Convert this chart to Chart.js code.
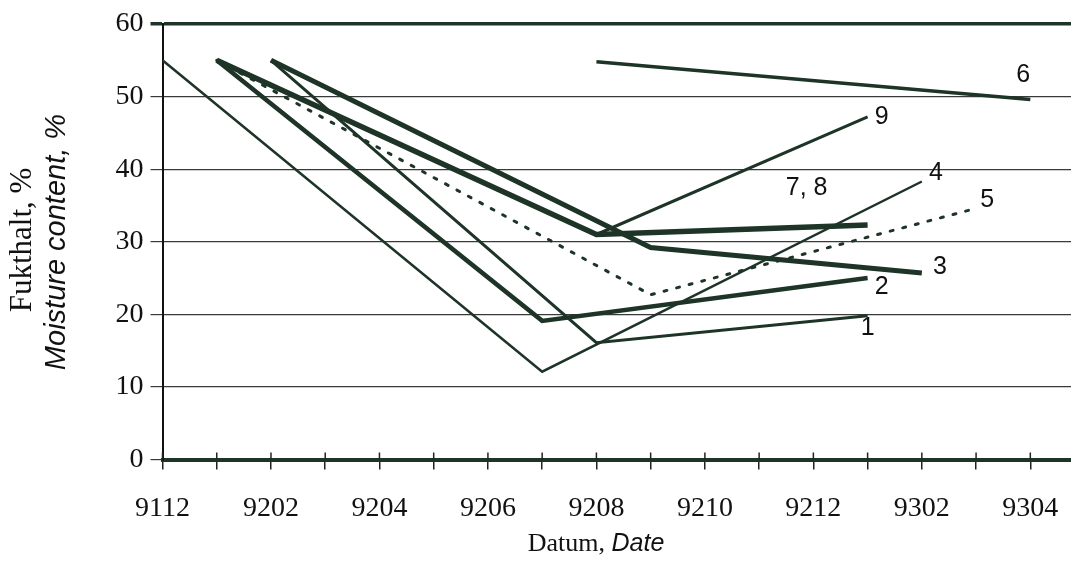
<!DOCTYPE html>
<html>
<head>
<meta charset="utf-8">
<script src="https://cdn.jsdelivr.net/npm/chart.js@4"></script>
<style>
  html, body { margin: 0; padding: 0; background: #fff; }
  #wrap { width: 1071px; height: 579px; }
</style>
</head>
<body>
<div id="wrap"><canvas id="chart_moisture"></canvas></div>
<script>
// months, index 0 = 9112 ... 16 = 9304
var months = ['9112', '9201', '9202', '9203', '9204', '9205', '9206', '9207', '9208',
              '9209', '9210', '9211', '9212', '9301', '9302', '9303', '9304'];

//               9112  9201  9202  9203  9204  9205  9206  9207  9208  9209  9210  9211  9212  9301  9302  9303  9304
var series1  = [null, null,  55, null, null, null, null, null, 16.1, null, null, null, null, 19.8, null, null, null];
var series2  = [null,  55, null, null, null, null, null, 19.1, null, null, null, null, null, 25.0, null, null, null];
var series3  = [null, null,  55, null, null, null, null, null, null, 29.2, null, null, null, null, 25.7, null, null];
var series4  = [ 55, null, null, null, null, null, null, 12.1, null, null, null, null, null, null, 38.3, null, null];
var series5  = [null,  55, null, null, null, null, null, null, null, 22.7, null, null, null, null, null, 34.6, null];
var series6  = [null, null, null, null, null, null, null, null, 54.8, null, null, null, null, null, null, null, 49.6];
var series78 = [null,  55, null, null, null, null, null, null, 31.0, null, null, null, null, 32.3, null, null, null];
var series9  = [null,  55, null, null, null, null, null, null, 31.0, null, null, null, null, 47.2, null, null, null];

var ink = '#1d3427';

function toPoints(values) {
    var pts = [];
    values.forEach(function(v, i) {
        if (v !== null) pts.push({x: i, y: v});
    });
    return pts;
}

function line(label, values, width, dash) {
    return {
        label: label,
        data: toPoints(values),
        borderColor: ink,
        borderWidth: width,
        borderDash: dash || [],
        borderCapStyle: dash ? 'round' : 'butt',
        borderJoinStyle: 'miter',
        pointRadius: 0,
        fill: false,
        tension: 0
    };
}

// where each series' number sits, relative to its last point
var labelOffsets = {
    '1':    {dx: 0,   dy: 12},
    '2':    {dx: 14,  dy: 9},
    '3':    {dx: 18,  dy: -6},
    '4':    {dx: 14,  dy: -8},
    '5':    {dx: 11,  dy: -8},
    '6':    {dx: -7,  dy: -24},
    '7, 8': {dx: -61, dy: -37},
    '9':    {dx: 14,  dy: 0}
};

var textPlugin = {
    id: 'textPlugin',
    afterDraw: function(chart) {
        var ctx = chart.ctx;
        var xs = chart.scales.x, ys = chart.scales.y;
        ctx.save();
        ctx.fillStyle = '#111';
        ctx.textBaseline = 'middle';
        ctx.textAlign = 'center';

        // small tick marks poking above the x axis
        ctx.strokeStyle = '#222';
        ctx.lineWidth = 1.5;
        for (var i = 0; i < months.length; i++) {
            var px = xs.getPixelForValue(i);
            ctx.beginPath();
            ctx.moveTo(px, ys.bottom - 7);
            ctx.lineTo(px, ys.bottom);
            ctx.stroke();
        }

        // series numbers
        ctx.font = '25px "Liberation Sans", Arial, sans-serif';
        chart.data.datasets.forEach(function(ds) {
            var last = ds.data[ds.data.length - 1];
            var off = labelOffsets[ds.label];
            ctx.fillText(ds.label, xs.getPixelForValue(last.x) + off.dx, ys.getPixelForValue(last.y) + off.dy);
        });

        // y axis title, two lines
        ctx.save();
        ctx.translate(23, 240);
        ctx.rotate(-Math.PI / 2);
        ctx.font = '31px "Liberation Serif", "Times New Roman", serif';
        ctx.fillText('Fukthalt, %', 0, 0);
        ctx.restore();
        ctx.save();
        ctx.translate(57, 242);
        ctx.rotate(-Math.PI / 2);
        ctx.font = 'italic 29px "Liberation Sans", Arial, sans-serif';
        ctx.fillText('Moisture content, %', 0, 0);
        ctx.restore();

        // x axis title
        var part1 = 'Datum, ', part2 = 'Date';
        var f1 = '26px "Liberation Serif", "Times New Roman", serif';
        var f2 = 'italic 25px "Liberation Sans", Arial, sans-serif';
        ctx.font = f1;
        var w1 = ctx.measureText(part1).width;
        ctx.font = f2;
        var w2 = ctx.measureText(part2).width;
        var x0 = 596 - (w1 + w2) / 2;
        ctx.textAlign = 'left';
        ctx.font = f1;
        ctx.fillText(part1, x0, 544);
        ctx.font = f2;
        ctx.fillText(part2, x0 + w1, 544);
        ctx.restore();
    }
};

var chart_moisture = new Chart(document.getElementById('chart_moisture'), {
    type: 'line',
    data: {
        datasets: [
            line('1', series1, 3),
            line('2', series2, 4.5),
            line('3', series3, 5),
            line('4', series4, 2.5),
            line('5', series5, 3, [3, 10]),
            line('6', series6, 3.5),
            line('7, 8', series78, 5.5),
            line('9', series9, 3)
        ]
    },
    options: {
        animation: false,
        responsive: true,
        maintainAspectRatio: false,
        layout: {
            padding: {top: 24, right: 0, left: 0, bottom: 0}
        },
        plugins: {
            legend: {display: false},
            title: {display: false},
            tooltip: {enabled: false}
        },
        scales: {
            x: {
                type: 'linear',
                min: 0,
                max: 16.75,
                afterFit: function(scale) {
                    scale.height = 119.5;
                    scale.paddingLeft = 0;
                    scale.paddingRight = 0;
                },
                border: {display: true, color: ink, width: 4},
                grid: {
                    drawOnChartArea: false,
                    drawTicks: true,
                    tickLength: 10,
                    color: '#222',
                    lineWidth: 1.5
                },
                ticks: {
                    stepSize: 1,
                    includeBounds: false,
                    autoSkip: false,
                    maxRotation: 0,
                    padding: 22,
                    color: '#111',
                    font: {family: '"Liberation Serif", "Times New Roman", serif', size: 28},
                    callback: function(value) {
                        return value % 2 === 0 ? months[value] : '';
                    }
                }
            },
            y: {
                type: 'linear',
                min: 0,
                max: 60,
                afterFit: function(scale) {
                    scale.width = 162.5;
                    scale.paddingTop = 0;
                    scale.paddingBottom = 0;
                },
                border: {display: true, color: '#111', width: 2},
                grid: {
                    drawTicks: true,
                    tickLength: 12,
                    color: function(c) { return c.tick && c.tick.value === 60 ? ink : '#3a3a3a'; },
                    lineWidth: function(c) { return c.tick && c.tick.value === 60 ? 3.5 : 1.2; }
                },
                ticks: {
                    stepSize: 10,
                    padding: 7,
                    color: '#111',
                    font: {family: '"Liberation Serif", "Times New Roman", serif', size: 28}
                }
            }
        }
    },
    plugins: [textPlugin, {
        id: 'whiteBackground',
        beforeDraw: (chart) => {
            const ctx = chart.canvas.getContext('2d');
            ctx.save();
            ctx.globalCompositeOperation = 'destination-over';
            ctx.fillStyle = 'white';
            ctx.fillRect(0, 0, chart.canvas.width, chart.canvas.height);
            ctx.restore();
        }
    }]
});
</script>
</body>
</html>
